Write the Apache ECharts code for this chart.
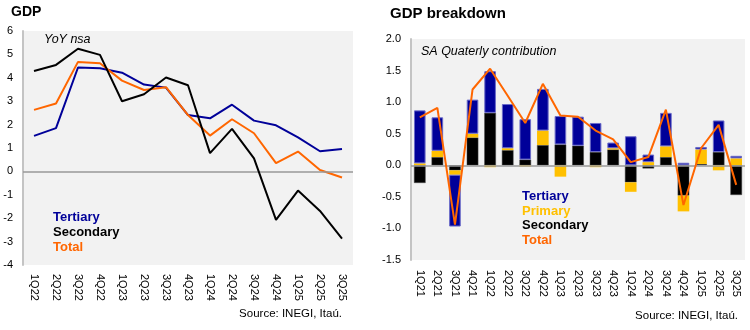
<!DOCTYPE html>
<html><head><meta charset="utf-8">
<script src="https://cdn.jsdelivr.net/npm/echarts@6/dist/echarts.min.js"></script>
<style>html,body{margin:0;padding:0;background:#fff}#c{width:750px;height:330px}</style>
</head><body><div id="c"></div>
<script>
const cats1 = ['1Q22','2Q22','3Q22','4Q22','1Q23','2Q23','3Q23','4Q23','1Q24','2Q24','3Q24','4Q24','1Q25','2Q25','3Q25'];
const tertiary1 = [1.52,1.85,4.44,4.41,4.22,3.71,3.58,2.41,2.27,2.85,2.17,1.97,1.45,0.86,0.96];
const secondary1 = [4.29,4.55,5.24,4.98,3.0,3.3,4.01,3.68,0.78,1.82,0.56,-2.07,-0.82,-1.69,-2.87];
const total1 = [2.63,2.9,4.68,4.62,3.88,3.48,3.6,2.41,1.53,2.23,1.63,0.35,0.85,0.06,-0.26];

const cats2 = ['1Q21','2Q21','3Q21','4Q21','1Q22','2Q22','3Q22','4Q22','1Q23','2Q23','3Q23','4Q23','1Q24','2Q24','3Q24','4Q24','1Q25','2Q25','3Q25'];
const secondary2 = [-0.28,0.13,-0.08,0.44,0.83,0.24,0.09,0.32,0.33,0.31,0.21,0.25,-0.27,-0.05,0.13,-0.48,0.02,0.21,-0.47];
const primary2 = [0.03,0.10,-0.07,0.06,-0.03,0.03,-0.02,0.23,-0.18,0.0,-0.03,0.02,-0.15,0.05,0.17,-0.25,0.23,-0.08,0.11];
const tertiary2 = [0.84,0.53,-0.82,0.54,0.66,0.70,0.64,0.66,0.45,0.46,0.46,0.09,0.46,0.12,0.53,0.04,0.04,0.50,0.04];
const total2 = [0.76,0.91,-0.94,1.20,1.53,1.10,0.67,1.29,0.79,0.77,0.55,0.41,0.05,0.13,0.88,-0.63,0.27,0.64,-0.31];

const F = 'Liberation Sans, Arial, sans-serif';
const BLUE = '#000099', YEL = '#ffc000', ORA = '#ff6600', BLK = '#000000';
const chart = echarts.init(document.getElementById('c'), null, {renderer:'canvas'});
const axisLab = {color:'#000', fontFamily:F, fontSize:11};
const zeroLine = {silent:true, symbol:'none', label:{show:false}, lineStyle:{color:'#999', width:1.5, type:'solid'}, data:[{yAxis:0}]};

chart.setOption({
  animation:false,
  grid:[
    {left:23, top:31, width:330, height:234, show:true, backgroundColor:'#f2f2f2', borderWidth:0},
    {left:411, top:39, width:334, height:221, show:true, backgroundColor:'#f2f2f2', borderWidth:0}
  ],
  xAxis:[
    {gridIndex:0, type:'category', data:cats1, boundaryGap:true, axisLine:{show:false}, axisTick:{show:false},
     axisLabel:Object.assign({rotate:-90, margin:9, interval:0}, axisLab)},
    {gridIndex:1, type:'category', data:cats2, boundaryGap:true, axisLine:{show:false}, axisTick:{show:false},
     axisLabel:Object.assign({rotate:-90, margin:10, interval:0}, axisLab)}
  ],
  yAxis:[
    {gridIndex:0, type:'value', min:-4, max:6, interval:1, splitLine:{show:false}, axisTick:{show:false},
     axisLine:{show:true, lineStyle:{color:'#c4c4c4', width:2}}, axisLabel:Object.assign({margin:10}, axisLab)},
    {gridIndex:1, type:'value', min:-1.5, max:2, interval:0.5, splitLine:{show:false}, axisTick:{show:false},
     axisLine:{show:true, lineStyle:{color:'#c4c4c4', width:2}},
     axisLabel:Object.assign({margin:10, formatter:v=>v.toFixed(1)}, axisLab)}
  ],
  series:[
    {name:'Tertiary', type:'line', xAxisIndex:0, yAxisIndex:0, data:tertiary1, symbol:'none', lineStyle:{color:BLUE, width:2}, z:3, markLine:zeroLine},
    {name:'Total', type:'line', xAxisIndex:0, yAxisIndex:0, data:total1, symbol:'none', lineStyle:{color:ORA, width:2}, z:4},
    {name:'Secondary', type:'line', xAxisIndex:0, yAxisIndex:0, data:secondary1, symbol:'none', lineStyle:{color:BLK, width:2}, z:5},

    {name:'Secondary2', type:'bar', xAxisIndex:1, yAxisIndex:1, data:secondary2, stack:'s', barWidth:'66%', itemStyle:{color:BLK, borderColor:'#444', borderWidth:0.5}},
    {name:'Primary2', type:'bar', xAxisIndex:1, yAxisIndex:1, data:primary2, stack:'s', itemStyle:{color:YEL}},
    {name:'Tertiary2', type:'bar', xAxisIndex:1, yAxisIndex:1, data:tertiary2, stack:'s', itemStyle:{color:BLUE, borderColor:'#6b6bc8', borderWidth:1},
     markLine:zeroLine},
    {name:'Total2', type:'line', xAxisIndex:1, yAxisIndex:1, data:total2, symbol:'none', lineStyle:{color:ORA, width:2}, z:10}
  ],
  graphic:[
    {type:'text', left:11, top:5, style:{text:'GDP', font:'bold 14px '+F, fill:'#000'}},
    {type:'text', left:44, top:33, style:{text:'YoY nsa', font:'italic 12.5px '+F, fill:'#000'}},
    {type:'text', left:53, top:211, style:{text:'Tertiary', font:'bold 13px '+F, fill:BLUE}},
    {type:'text', left:53, top:226, style:{text:'Secondary', font:'bold 13px '+F, fill:BLK}},
    {type:'text', left:53, top:241, style:{text:'Total', font:'bold 13px '+F, fill:ORA}},
    {type:'text', right:408, top:308, style:{text:'Source: INEGI, Itaú.', font:'11.5px '+F, fill:'#000'}},

    {type:'text', left:390, top:6, style:{text:'GDP breakdown', font:'bold 15px '+F, fill:'#000'}},
    {type:'text', left:421, top:45, style:{text:'SA Quaterly contribution', font:'italic 12.5px '+F, fill:'#000'}},
    {type:'text', left:522, top:190, style:{text:'Tertiary', font:'bold 13px '+F, fill:BLUE}},
    {type:'text', left:522, top:205, style:{text:'Primary', font:'bold 13px '+F, fill:YEL}},
    {type:'text', left:522, top:219, style:{text:'Secondary', font:'bold 13px '+F, fill:BLK}},
    {type:'text', left:522, top:234, style:{text:'Total', font:'bold 13px '+F, fill:ORA}},
    {type:'text', right:12, top:310, style:{text:'Source: INEGI, Itaú.', font:'11.5px '+F, fill:'#000'}}
  ]
});
</script></body></html>
